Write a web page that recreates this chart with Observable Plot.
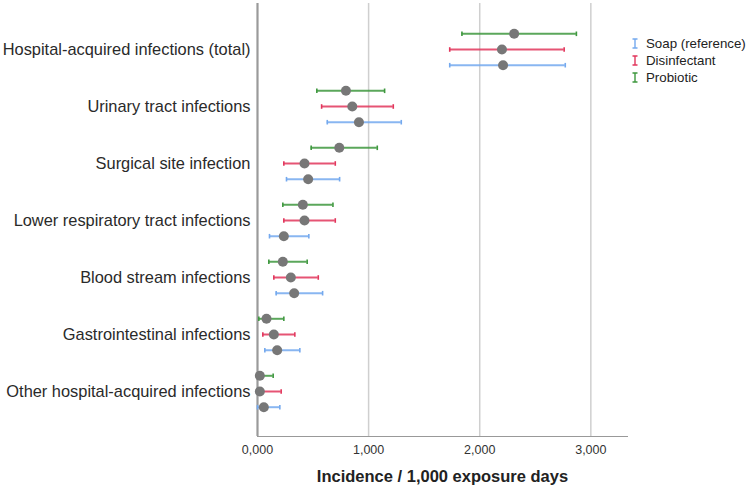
<!DOCTYPE html>
<html><head><meta charset="utf-8">
<script src="https://cdn.jsdelivr.net/npm/d3@7"></script>
<script src="https://cdn.jsdelivr.net/npm/@observablehq/plot@0.6"></script>
<style>
body{margin:0;background:#fff;font-family:"Liberation Sans",Arial,sans-serif;}
#wrap{position:relative;width:747px;height:492px;}
#legend{position:absolute;left:631px;top:35px;font-size:13.3px;color:#222;font-family:"Liberation Sans",Arial,sans-serif;white-space:nowrap;}
.item{display:flex;align-items:center;height:17px;}
.item svg{margin-right:7px;}
</style></head><body><div id="wrap"></div>
<script>
const categories = [
  "Hospital-acquired infections (total)",
  "Urinary tract infections",
  "Surgical site infection",
  "Lower respiratory tract infections",
  "Blood stream infections",
  "Gastrointestinal infections",
  "Other hospital-acquired infections"
];
const series = ["Soap (reference)", "Disinfectant", "Probiotic"];
const colors = ["#74a9ee", "#e2365c", "#3e983e"];
const offsets = [15.7, 0, -15.7];

const soapEst = [2.21, 0.913, 0.456, 0.237, 0.330, 0.177, 0.057];
const soapLo  = [1.73, 0.628, 0.261, 0.108, 0.168, 0.066, 0.0];
const soapHi  = [2.77, 1.294, 0.739, 0.462, 0.586, 0.381, 0.201];

const disEst = [2.20, 0.853, 0.423, 0.423, 0.300, 0.147, 0.021];
const disLo  = [1.73, 0.577, 0.237, 0.237, 0.147, 0.048, 0.0];
const disHi  = [2.76, 1.222, 0.700, 0.700, 0.547, 0.336, 0.213];

const proEst = [2.31, 0.796, 0.736, 0.408, 0.228, 0.081, 0.021];
const proLo  = [1.84, 0.534, 0.483, 0.228, 0.102, 0.012, 0.0];
const proHi  = [2.87, 1.144, 1.078, 0.679, 0.447, 0.237, 0.141];

const xTicks = [0, 1, 2, 3];
const xLabel = "Incidence / 1,000 exposure days";

const seriesData = [
  [soapEst, soapLo, soapHi],
  [disEst, disLo, disHi],
  [proEst, proLo, proHi]
];
const tables = seriesData.map(([e, l, h], si) =>
  categories.map((c, i) => ({category: c, series: series[si], est: e[i], lo: l[i], hi: h[i]})));

const cap = {draw(ctx, size) { const h = Math.sqrt(size / Math.PI); ctx.moveTo(0, -h); ctx.lineTo(0, h); }};

const seriesMarks = [];
for (let si = 0; si < series.length; si++) {
  const t = tables[si], dy = offsets[si], c = colors[si];
  seriesMarks.push(
    Plot.ruleY(t, {y: "category", x1: "lo", x2: "hi", dy, stroke: c, strokeWidth: 2, strokeOpacity: 0.85}),
    Plot.dot(t, {x: "lo", y: "category", dy, symbol: cap, r: 2.3, stroke: c, strokeWidth: 1.6}),
    Plot.dot(t, {x: "hi", y: "category", dy, symbol: cap, r: 2.3, stroke: c, strokeWidth: 1.6})
  );
}
const dotMarks = tables.map((t, si) => Plot.dot(t, {x: "est", y: "category", dy: offsets[si], r: 5, fill: "#777", stroke: "none"}));

const chart = Plot.plot({
  width: 747,
  height: 492,
  marginLeft: 257,
  marginRight: 120,
  marginTop: 3,
  marginBottom: 56,
  style: {fontFamily: "'Liberation Sans', Arial, sans-serif", fontSize: "12.5px", color: "#333", background: "#fff"},
  x: {domain: [0, 3.33], ticks: xTicks, tickFormat: d => d.toFixed(3).replace(".", ","), tickSize: 0, tickPadding: 9, label: null},
  y: {type: "point", domain: categories, padding: 0.772, axis: null},
  marks: [
    Plot.ruleX(xTicks.slice(1), {stroke: "#cfcfcf", strokeWidth: 1.5}),
    Plot.frame({anchor: "bottom", stroke: "#999", strokeWidth: 1}),
    Plot.ruleX([0], {stroke: "#9a9a9a", strokeWidth: 2.2}),
    ...seriesMarks,
    ...dotMarks,
    Plot.text(categories, {y: d => d, frameAnchor: "left", dx: -7, textAnchor: "end", fontSize: 16.4, fill: "#2a2a2a"}),
    Plot.text([xLabel], {frameAnchor: "bottom", dy: 45, fontSize: 16.5, fontWeight: "bold", fill: "#222", style: "letter-spacing:0.5px"})
  ]
});
const wrap = document.getElementById("wrap");
wrap.appendChild(chart);

const legend = document.createElement("div");
legend.id = "legend";
series.forEach((s, i) => {
  const item = document.createElement("div");
  item.className = "item";
  item.innerHTML = `<svg width="8" height="11"><path d="M1.5,1H6.5M4,1V10M1.5,10H6.5" stroke="${colors[i]}" stroke-width="1.4" fill="none"/></svg><span>${s}</span>`;
  legend.appendChild(item);
});
wrap.appendChild(legend);
</script></body></html>
